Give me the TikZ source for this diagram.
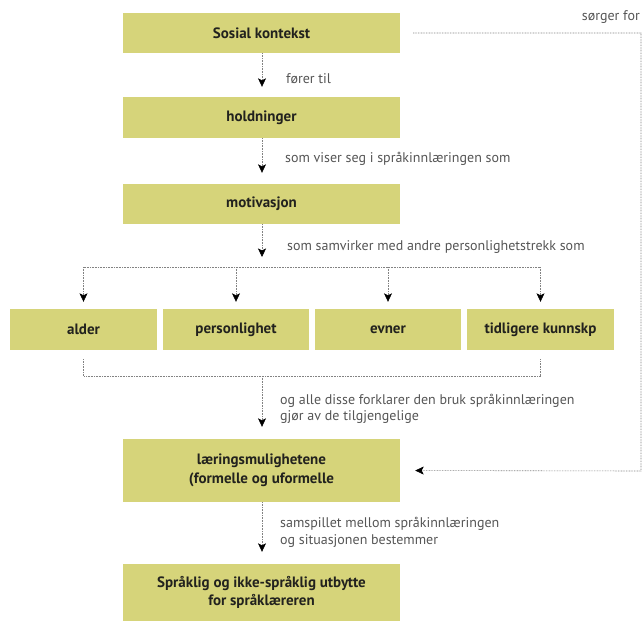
\documentclass[tikz,border=0pt]{standalone}
\usepackage{fontspec}
\setmainfont{PT Sans}
\usetikzlibrary{arrows.meta}
\definecolor{boxfill}{RGB}{214,212,122}
\definecolor{boxtext}{RGB}{34,34,30}
\definecolor{labtext}{RGB}{85,85,85}
\definecolor{linegray}{RGB}{130,130,130}
\tikzset{
  box/.style={fill=boxfill, draw=none, inner sep=0pt, align=center,
    font=\fontsize{15}{18.5}\selectfont\bfseries, text=boxtext},
  lab/.style={anchor=west, inner sep=0pt, align=left,
    font=\fontsize{14}{16.5}\selectfont, text=labtext},
  dl/.style={draw=linegray, line width=0.6pt, dash pattern=on 0.8pt off 0.8pt},
  arr/.style={dl, -{Stealth[length=8.5pt,width=8pt,inset=2pt,black]}},
}
\begin{document}
\begin{tikzpicture}[x=1pt,y=-1pt]
\useasboundingbox (0,0) rectangle (643,624);
% main column
\node[box, minimum width=277pt, minimum height=40pt] (s1) at (261.5,33) {Sosial kontekst};
\node[box, minimum width=277pt, minimum height=41pt] (s2) at (261.5,117.5) {holdninger};
\node[box, minimum width=277pt, minimum height=40pt] (s3) at (261.5,204) {motivasjon};
% row
\node[box, minimum width=147pt, minimum height=41pt] (a1) at (83.5,329.5) {alder};
\node[box, minimum width=146pt, minimum height=41pt] (a2) at (236,329.5) {personlighet};
\node[box, minimum width=146pt, minimum height=41pt] (a3) at (388,329.5) {evner};
\node[box, minimum width=147pt, minimum height=41pt] (a4) at (540.5,329.5) {tidligere kunnskp};
% lower column
\node[box, minimum width=277pt, minimum height=63pt] (s5) at (261.5,470.5) {læringsmulighetene\\(formelle og uformelle};
\node[box, minimum width=277pt, minimum height=57pt] (s6) at (261.5,592.5) {Språklig og ikke-språklig utbytte\\for språklæreren};
% coordinates
\coordinate (m3) at (262,257);
\coordinate (tl) at (83.5,267);
\coordinate (tr) at (540.5,267);
\coordinate (bl) at (83.5,376);
\coordinate (br) at (540.5,376);
\coordinate (bm) at (262,376);
\coordinate (fr) at (641,33);
\coordinate (fb) at (641,471);
% connectors
\draw[arr, shorten >=10pt] (s1.south -| 262,0) -- (s2.north -| 262,0);
\draw[arr, shorten >=11pt] (s2.south -| 262,0) -- (s3.north -| 262,0);
\draw[arr] (s3.south -| m3) -- (m3);
\draw[dl] (tl) -- (tr);
\draw[arr, shorten >=7pt] (tl) -- (a1.north);
\draw[arr, shorten >=7pt] (a2.north |- tl) -- (a2.north);
\draw[arr, shorten >=7pt] (a3.north |- tl) -- (a3.north);
\draw[arr, shorten >=7pt] (tr) -- (a4.north);
\draw[dl, shorten <=9pt, shorten >=9pt] (a1.south) -- (bl) -- (br) -- (a4.south);
\draw[arr, shorten >=12pt] (bm) -- (s5.north -| bm);
\draw[arr, shorten >=12pt] (s5.south -| 262,0) -- (s6.north -| 262,0);
\draw[arr, shorten <=13pt, shorten >=15pt] (s1.east) -- (fr) -- (fb) -- (s5.east);
% labels
\node[lab] (l1) at (286,79) {fører til};
\node[lab] (l2) at (285,159) {som viser seg i språkinnlæringen som};
\node[lab] (l3) at (287,247) {som samvirker med andre personlighetstrekk som};
\node[lab] (l4) at (280,409) {og alle disse forklarer den bruk språkinnlæringen\\gjør av de tilgjengelige};
\node[lab] (l5) at (280,532.5) {samspillet mellom språkinnlæringen\\og situasjonen bestemmer};
\node[lab, anchor=east] (l6) at (640,17) {sørger for};
\end{tikzpicture}
\end{document}
